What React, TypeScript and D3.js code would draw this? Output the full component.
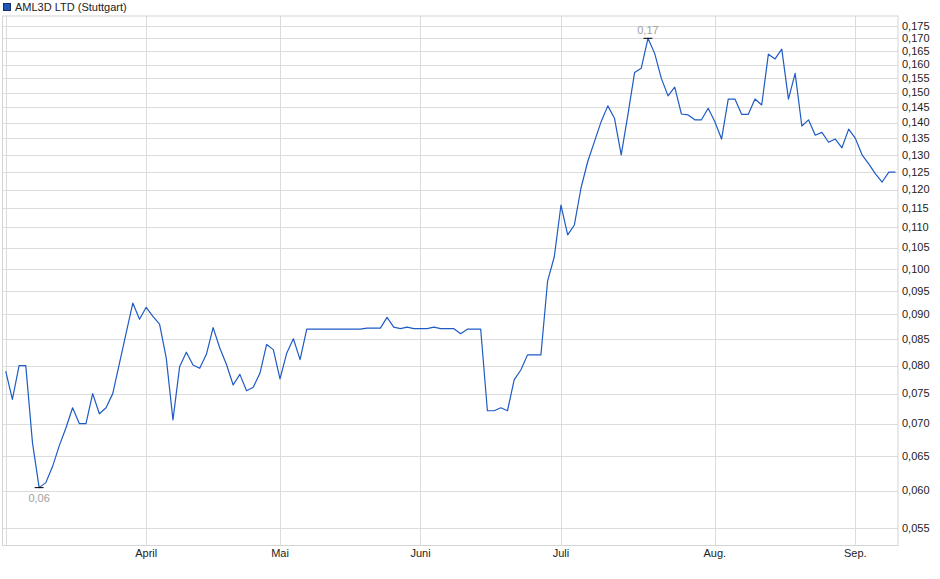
import React from "react";
import * as d3 from "d3";

const seriesName = "AML3D LTD (Stuttgart)";

// daily closing prices (trading days, March 3 – Sep 9)
const prices: number[] = [
  0.079, 0.074, 0.080, 0.080, 0.067, 0.0604, 0.0611, 0.0634, 0.0665, 0.0693,
  0.0726, 0.0700, 0.0700, 0.0750, 0.0716, 0.0726, 0.0750, 0.0804, 0.0862, 0.0924,
  0.0890, 0.0915, 0.0896, 0.0880, 0.0814, 0.0706, 0.0798, 0.0825, 0.0801, 0.0795,
  0.0821, 0.0873, 0.0833, 0.0802, 0.0765, 0.0784, 0.0755, 0.0761, 0.0786, 0.0840,
  0.0830, 0.0776, 0.0823, 0.0851, 0.0811, 0.0870, 0.0870, 0.0870, 0.0870, 0.0870,
  0.0870, 0.0870, 0.0870, 0.0870, 0.0872, 0.0872, 0.0872, 0.0894, 0.0874, 0.0871,
  0.0874, 0.0871, 0.0871, 0.0871, 0.0874, 0.0871, 0.0871, 0.0871, 0.0861, 0.0870,
  0.0870, 0.0870, 0.0721, 0.0721, 0.0726, 0.0721, 0.0774, 0.0792, 0.0820, 0.0820,
  0.0820, 0.0972, 0.1028, 0.1158, 0.1081, 0.1106, 0.1205, 0.1280, 0.1340, 0.1403,
  0.1455, 0.1414, 0.1300, 0.1425, 0.1571, 0.1587, 0.1700, 0.1642, 0.1550, 0.1489,
  0.1519, 0.1428, 0.1425, 0.1409, 0.1409, 0.1447, 0.1403, 0.1348, 0.1478, 0.1478,
  0.1427, 0.1427, 0.1478, 0.1458, 0.1639, 0.1621, 0.1658, 0.1478, 0.1568, 0.1389,
  0.1409, 0.1360, 0.1369, 0.1338, 0.1348, 0.1321, 0.1379, 0.1350, 0.1300, 0.1273,
  0.1244, 0.1221, 0.1249, 0.1249,
];

// first trading day index of each month
const monthLabels = ["", "April", "Mai", "Juni", "Juli", "Aug.", "Sep."];
const monthStarts = [0, 21, 41, 62, 83, 106, 127];

const yTicks = [
  0.055, 0.06, 0.065, 0.07, 0.075, 0.08, 0.085, 0.09, 0.095, 0.1, 0.105, 0.11,
  0.115, 0.12, 0.125, 0.13, 0.135, 0.14, 0.145, 0.15, 0.155, 0.16, 0.165, 0.17,
  0.175,
];

const W = 940;
const H = 579;
const plot = { left: 2.5, right: 898, top: 16, bottom: 545.5 };
const FONT = "'Liberation Sans', Arial, sans-serif";
const LINE = "#1f5bc4";

export default function App() {
  const x = d3.scaleLinear().domain([0, prices.length - 1]).range([5.7, 895.5]);
  const y = d3.scaleLog().domain([0.055, 0.17]).range([528.3, 38.3]);

  const line = d3
    .line<number>()
    .x((_, i) => x(i))
    .y((d) => y(d));

  const fmt = (v: number) => v.toFixed(3).replace(".", ",");

  const minIdx = d3.minIndex(prices);
  const maxIdx = d3.maxIndex(prices);

  return (
    <svg
      width={W}
      height={H}
      style={{ position: "absolute", left: 0, top: 0, background: "#fff" }}
      fontFamily={FONT}
    >
      {/* legend */}
      <rect x={3.5} y={3.5} width={7} height={7} fill="#1f56b8" stroke="#1a2f66" strokeWidth={1} />
      <text x={15} y={10.5} fontSize={11} fill="#222">
        {seriesName}
      </text>

      {/* horizontal grid */}
      {yTicks.map((t) => (
        <line
          key={"h" + t}
          x1={plot.left}
          x2={plot.right}
          y1={Math.round(y(t)) + 0.5}
          y2={Math.round(y(t)) + 0.5}
          stroke="#dcdcdc"
          strokeWidth={1}
        />
      ))}
      {/* vertical grid */}
      {monthStarts.map((m, i) => (
        <line
          key={"v" + i}
          x1={Math.round(x(m)) + 0.5}
          x2={Math.round(x(m)) + 0.5}
          y1={plot.top}
          y2={plot.bottom}
          stroke="#dcdcdc"
          strokeWidth={1}
        />
      ))}
      {/* frame */}
      <rect
        x={plot.left}
        y={plot.top}
        width={plot.right - plot.left}
        height={plot.bottom - plot.top}
        fill="none"
        stroke="#d4d4d4"
        strokeWidth={1}
      />

      {/* y labels */}
      {yTicks.map((t) => (
        <text
          key={"yl" + t}
          x={902}
          y={y(t)}
          dy="0.35em"
          fontSize={11}
          fill="#222"
        >
          {fmt(t)}
        </text>
      ))}

      {/* x labels */}
      {monthStarts.map((m, i) =>
        monthLabels[i] ? (
          <text
            key={"xl" + i}
            x={x(m)}
            y={557}
            textAnchor="middle"
            fontSize={11}
            fill="#222"
          >
            {monthLabels[i]}
          </text>
        ) : null
      )}

      {/* price line */}
      <path d={line(prices) || ""} fill="none" stroke={LINE} strokeWidth={1.2} strokeLinejoin="round" />

      {/* min / max markers */}
      <line x1={x(minIdx) - 4.5} x2={x(minIdx) + 4.5} y1={y(prices[minIdx])} y2={y(prices[minIdx])} stroke="#000" strokeWidth={1} />
      <text x={x(minIdx)} y={y(prices[minIdx]) + 14} textAnchor="middle" fontSize={11} fill="#a0a0a0">
        {prices[minIdx].toFixed(2).replace(".", ",")}
      </text>
      <line x1={x(maxIdx) - 4.5} x2={x(maxIdx) + 4.5} y1={y(prices[maxIdx])} y2={y(prices[maxIdx])} stroke="#000" strokeWidth={1} />
      <text x={x(maxIdx)} y={y(prices[maxIdx]) - 4} textAnchor="middle" fontSize={11} fill="#a0a0a0">
        {prices[maxIdx].toFixed(2).replace(".", ",")}
      </text>
    </svg>
  );
}
